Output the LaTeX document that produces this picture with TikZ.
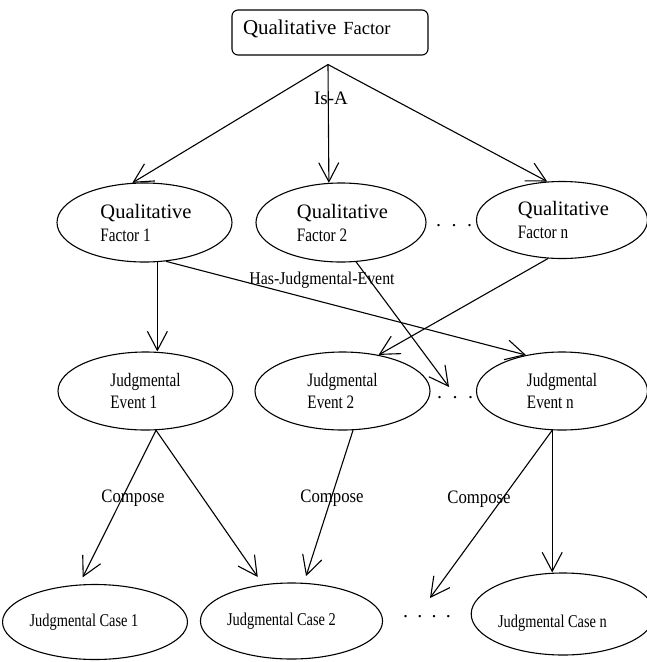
\documentclass[tikz,border=0pt]{standalone}
\usepackage{fontspec}
\setmainfont{Liberation Serif}
\newfontfamily\nfA[FakeStretch=0.8]{Liberation Serif}
\newfontfamily\nfB[FakeStretch=0.88]{Liberation Serif}
\usetikzlibrary{shapes.geometric,arrows.meta,calc}
\begin{document}
\begin{tikzpicture}[x=1pt,y=-1pt,line width=1.1pt,
  ell/.style={draw,ellipse,inner sep=0pt,align=left,font=\fontsize{20.5}{23}\selectfont},
  arr/.style={-{Straight Barb[length=19pt,width=20pt]}},
  lbl/.style={inner sep=0pt,font=\nfB\fontsize{19}{21}\selectfont},
  dots/.style={inner sep=0pt,font=\fontsize{20}{22}\selectfont}]
\useasboundingbox (0,0) rectangle (647,662);
% top box
\node[draw,rounded corners=6pt,align=left,text width=174pt,inner xsep=11pt,inner ysep=0pt,
      text height=24pt,text depth=21pt,font=\fontsize{21}{24}\selectfont] (top) at (330,32.5)
      {Qualitative {\fontsize{18.5}{20}\selectfont Factor}};
\coordinate (apex) at ($(top.south)+(-2,9)$);
% qualitative factors
\node[ell,minimum width=175pt,minimum height=79pt] (qf1) at (144.5,222.5)
  {\hspace{3pt}Qualitative\\\hspace{3pt}{\nfA\fontsize{19}{22}\selectfont Factor 1}};
\node[ell,minimum width=170pt,minimum height=79pt] (qf2) at (341,222.5)
  {\hspace{3pt}Qualitative\\\hspace{3pt}{\nfA\fontsize{19}{22}\selectfont Factor 2}};
\node[ell,minimum width=171pt,minimum height=77pt] (qfn) at (562,220)
  {\hspace{3pt}Qualitative\\\hspace{3pt}{\nfA\fontsize{19}{22}\selectfont Factor n}};
\node[dots] (dq) at (454,226) {.\hspace{10.5pt}.\hspace{10.5pt}.};
% judgmental events
\node[ell,minimum width=175pt,minimum height=78pt,font=\nfA\fontsize{19}{22}\selectfont] (je1) at (145.5,391)
  {Judgmental\\Event 1\hspace{8pt}};
\node[ell,minimum width=175pt,minimum height=78pt,font=\nfA\fontsize{19}{22}\selectfont] (je2) at (342.5,391)
  {Judgmental\\Event 2\hspace{8pt}};
\node[ell,minimum width=171pt,minimum height=78pt,font=\nfA\fontsize{19}{22}\selectfont] (jen) at (562,391)
  {Judgmental\\Event n\hspace{8pt}};
\node[dots] (de) at (455,398) {.\hspace{10.5pt}.\hspace{10.5pt}.};
% judgmental cases
\node[ell,minimum width=174pt,minimum height=75pt,font=\nfA\fontsize{18}{21}\selectfont] (case1) at (95,622)
  {Judgmental Case 1\hspace{22pt}};
\node[ell,minimum width=169pt,minimum height=76pt,font=\nfA\fontsize{18}{21}\selectfont] (case2) at (291.5,621)
  {Judgmental Case 2\hspace{20pt}};
\node[ell,minimum width=169pt,minimum height=82pt,font=\nfA\fontsize{18}{21}\selectfont] (casen) at (563,614)
  {\rule{0pt}{30pt}Judgmental Case n\hspace{21pt}};
\node[dots] (dc) at (427,617) {.\hspace{9.3pt}.\hspace{9.3pt}.\hspace{9.3pt}.};
% free ends
\coordinate (endA) at (449,387);
\coordinate (endC) at (430,598);
% Is-A
\draw[arr] (apex) -- (qf1.107);
\draw[arr] (apex) -- (qf2.107);
\draw[arr] (apex) -- (qfn.111);
\node[inner sep=0pt,font=\fontsize{19}{21}\selectfont] (isa) at (331,98) {Is-A};
% Has-Judgmental-Event
\draw[arr] (qf1.-72) -- (qf1.-72 |- je1.north);
\draw[arr] (qf1.-61) -- (jen.135);
\draw[arr] (qf2.-69) -- (endA);
\draw[arr] (qfn.-110) -- (je2.45);
\node[lbl,font=\nfB\fontsize{18}{20}\selectfont] (hje) at (322,280) {Has-Judgmental-Event};
% Compose
\draw[arr,shorten >=8pt] (je1.-75) -- (case1.113);
\draw[arr,shorten >=9pt] (je1.-75) -- (case2.128);
\draw[arr,shorten >=7pt] (je2.-75) -- (case2.72);
\draw[arr] (jen.-104) -- (endC);
\draw[arr] (jen.-104) -- (jen.-104 |- casen.north);
\node[lbl] (c1) at (133,498) {Compose};
\node[lbl] (c2) at (332,498) {Compose};
\node[lbl] (c3) at (479,499) {Compose};
\end{tikzpicture}
\end{document}
